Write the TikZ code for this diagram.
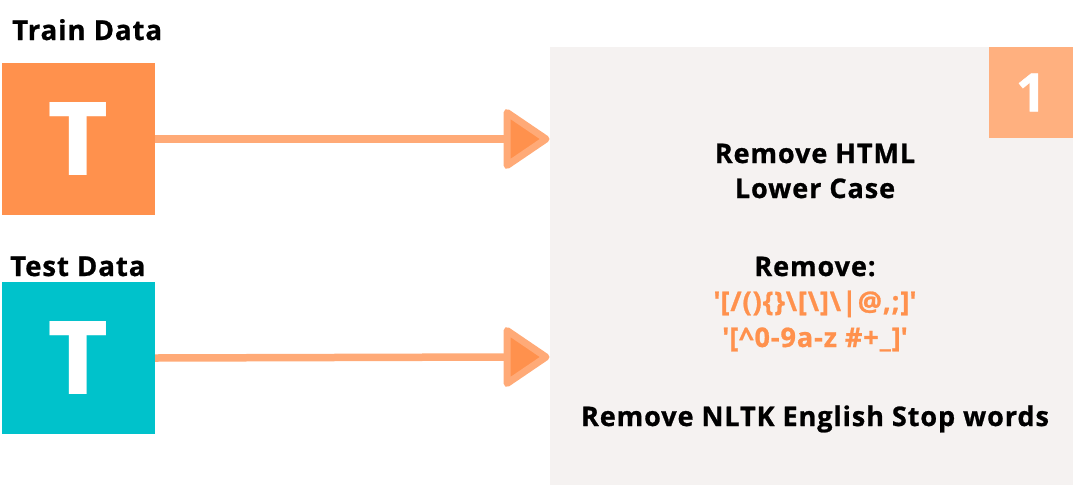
\documentclass[tikz,border=0pt]{standalone}
\usepackage{fontspec}
\setmainfont{Open Sans}[BoldFeatures={FakeBold=0.9, LetterSpace=3.5}]
\newfontfamily\popfont{Poppins}
\usetikzlibrary{arrows.meta}
\definecolor{orangeD}{HTML}{FF914D}
\definecolor{orangeL}{HTML}{FFAA77}
\definecolor{orangeN}{HTML}{FFB07F}
\definecolor{teal}{HTML}{00C2CB}
\definecolor{boxgray}{HTML}{F5F2F1}
\tikzset{
  srcbox/.style={minimum width=153pt, minimum height=152pt, inner sep=0pt, text=white, font=\popfont\bfseries\fontsize{104}{104}\selectfont},
  heading/.style={anchor=base west, inner sep=0pt, font=\bfseries\fontsize{27.5}{27.5}\selectfont},
  steptext/.style={anchor=base, inner sep=0pt, font=\bfseries\fontsize{27}{27}\selectfont},
  regex/.style={steptext, text=orangeD},
  conn/.style={draw=orangeL, line width=7.5pt},
  tiphead/.style={draw=orangeL, fill=orangeD, line width=7pt, line join=round},
}
\begin{document}
\begin{tikzpicture}[x=1pt, y=-1pt]
\useasboundingbox (0,0) rectangle (1073,499);
\fill[boxgray] (550,47) rectangle (1073,485);
\node[fill=orangeN, minimum width=84pt, minimum height=91pt, inner sep=0pt, text=white, font=\bfseries\fontsize{53}{53}\selectfont] (num) at (1031,92.5) {1};
\node[heading] (trainlbl) at (12,40) {Train Data};
\node[heading] (testlbl) at (10,276) {Test Data};
\node[srcbox, fill=orangeD] (train) at (78.5,139) {T};
\node[srcbox, fill=teal] (test) at (78.5,358) {T};
\coordinate (t1) at (507,139);
\coordinate (t2) at (507,357);
\draw[conn] (train.east) -- (t1);
\draw[conn] (test.east) -- (t2);
\draw[tiphead] ([yshift=26.5pt]t1) -- ++(39,26.5) -- ++(-39,26.5) -- cycle;
\draw[tiphead] ([yshift=26.5pt]t2) -- ++(39,26.5) -- ++(-39,26.5) -- cycle;
\node[steptext] (l1) at (815,163) {Remove HTML};
\node[steptext] (l2) at (815,198) {Lower Case};
\node[steptext] (l3) at (815,276) {Remove:};
\node[regex] (l4) at (815,311) {\textquotesingle[/()\{\}\textbackslash[\textbackslash]\textbackslash|@,;]\textquotesingle};
\node[regex] (l5) at (815,347) {\textquotesingle[\^{}0-9a-z \#+\_]\textquotesingle};
\node[steptext] (l6) at (815,426) {Remove NLTK English Stop words};
\end{tikzpicture}
\end{document}
